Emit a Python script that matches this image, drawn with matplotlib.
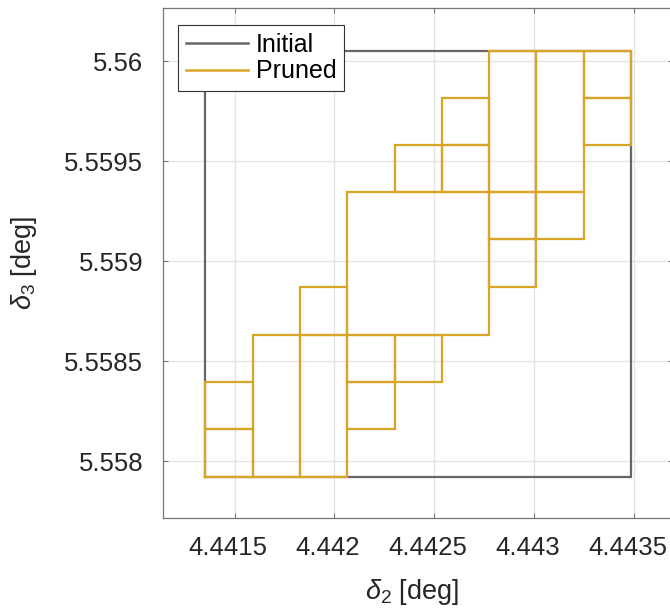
import numpy as np
import matplotlib
matplotlib.use("Agg")
import matplotlib.pyplot as plt
from matplotlib.lines import Line2D
from matplotlib.transforms import ScaledTranslation

plt.rcParams['font.family'] = ['Liberation Sans', 'DejaVu Sans']
plt.rcParams['mathtext.fontset'] = 'custom'
plt.rcParams['mathtext.rm'] = 'Liberation Sans'
plt.rcParams['mathtext.it'] = 'Liberation Sans:italic'

# initial search box (delta_2, delta_3 in deg)
init_d2 = [4.441353, 4.443483]
init_d3 = [5.557922, 5.560052]

# boxes left after pruning
pruned_d2_lo = [4.441353, 4.441353, 4.441590, 4.441827, 4.441827, 4.442065, 4.442065,
                4.442065, 4.442302, 4.442302, 4.442538, 4.442538, 4.442773, 4.442773,
                4.443010, 4.442773, 4.443010, 4.443247, 4.443247]
pruned_d2_hi = [4.441590, 4.441590, 4.441827, 4.442065, 4.442065, 4.442773, 4.442302,
                4.442302, 4.442538, 4.442538, 4.442773, 4.442773, 4.443010, 4.443010,
                4.443247, 4.443010, 4.443247, 4.443483, 4.443483]
pruned_d3_lo = [5.557922, 5.558159, 5.557922, 5.557922, 5.558632, 5.558632, 5.558159,
                5.558395, 5.558395, 5.559344, 5.559344, 5.559580, 5.558869, 5.559109,
                5.559109, 5.559344, 5.559344, 5.559580, 5.559815]
pruned_d3_hi = [5.558159, 5.558395, 5.558632, 5.558632, 5.558869, 5.559344, 5.558395,
                5.558632, 5.558632, 5.559580, 5.559580, 5.559815, 5.559109, 5.559344,
                5.559344, 5.560052, 5.560052, 5.559815, 5.560052]

xticks = [4.4415, 4.442, 4.4425, 4.443, 4.4435]
xticklabels = ["4.4415", "4.442", "4.4425", "4.443", "4.4435"]
yticks = [5.558, 5.5585, 5.559, 5.5595, 5.56]
yticklabels = ["5.558", "5.5585", "5.559", "5.5595", "5.56"]

gray = "#666666"
gold = "#D9A527"


def box(ax, x0, x1, y0, y1, **kw):
    ax.plot([x0, x1, x1, x0, x0], [y0, y0, y1, y1, y0], **kw)


fig = plt.figure(figsize=(6.7, 6.08), dpi=100)
ax = fig.add_axes([162.7/670, 1-518/608, 510.3/670, 509.7/608])

box(ax, init_d2[0], init_d2[1], init_d3[0], init_d3[1], color=gray, lw=1.6, solid_joinstyle='miter')
for i in range(len(pruned_d2_lo)):
    box(ax, pruned_d2_lo[i], pruned_d2_hi[i], pruned_d3_lo[i], pruned_d3_hi[i],
        color=gold, lw=1.6, solid_joinstyle='miter')

ax.set_xlim(4.44114, 4.443695)
ax.set_ylim(5.557715, 5.560265)
ax.set_xticks(xticks)
ax.set_xticklabels(xticklabels)
ax.set_yticks(yticks)
ax.set_yticklabels(yticklabels)
ax.tick_params(axis='both', direction='in', length=3.6, width=0.8, color='#777777',
               labelcolor='#262626', labelsize=18.5, top=True, right=True)
ax.tick_params(axis='x', pad=13)
ax.tick_params(axis='y', pad=14)
for lab in ax.get_xticklabels():
    lab.set_transform(lab.get_transform() + ScaledTranslation(-6.5/100, 0, fig.dpi_scale_trans))
for s in ax.spines.values():
    s.set_color('#777777')
    s.set_linewidth(0.9)
ax.grid(True, color='#e3e3e3', lw=0.9)
ax.set_axisbelow(True)

ax.set_xlabel(r'$\delta_2$ [deg]', fontsize=19.5, color='#262626', labelpad=12)
ax.xaxis.label.set_transform(ax.xaxis.label.get_transform()
                             + ScaledTranslation(-6/100, 0, fig.dpi_scale_trans))
ax.set_ylabel(r'$\delta_3$ [deg]', fontsize=19.5, color='#262626', labelpad=18)

handles = [Line2D([0], [0], color=gray, lw=1.8), Line2D([0], [0], color=gold, lw=1.8)]
leg = ax.legend(handles, ["Initial", "Pruned"], loc='upper left',
                bbox_to_anchor=(15.6/510.3, 1-16.7/509.7), borderaxespad=0,
                fontsize=18, handlelength=2.5, handletextpad=0.3, borderpad=0.3,
                labelspacing=0.12, fancybox=False, framealpha=1, edgecolor='#333333')
leg.get_frame().set_linewidth(0.8)

fig.savefig("out.png", dpi=100)
